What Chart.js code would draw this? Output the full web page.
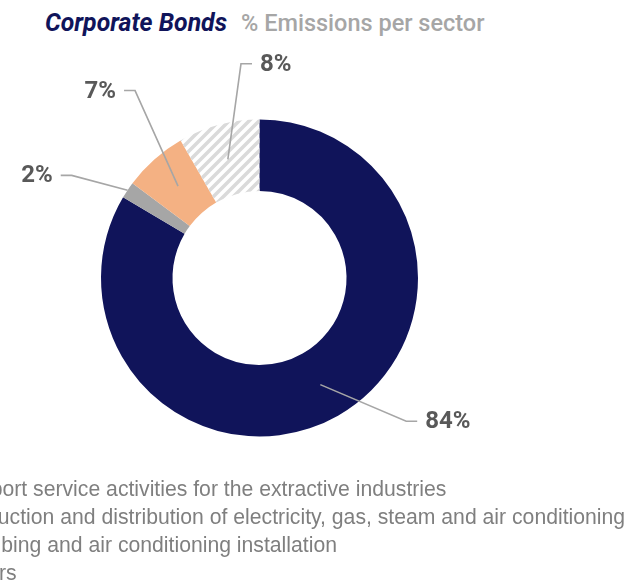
<!DOCTYPE html>
<html>
<head>
<meta charset="utf-8">
<script src="https://cdn.jsdelivr.net/npm/chart.js@4.4.1/dist/chart.umd.min.js"></script>
<style>
  body { margin: 0; width: 628px; height: 581px; overflow: hidden; background: #fff; position: relative; }
  #title { position: absolute; left: 45px; top: 11px; line-height: 24px; white-space: nowrap; font-family: Roboto, sans-serif; }
  #title .main { color: #10145a; font-weight: 700; font-style: italic; font-size: 24.8px; }
  #title .sub { color: #a6a6a6; font-weight: 500; font-size: 23.5px; margin-left: 14px; }
  #box { position: absolute; left: 0; top: 0; width: 628px; height: 581px; }
  #legend { position: absolute; left: -77px; top: 475px; margin: 0; padding: 0; list-style: none; }
  #legend li { display: flex; align-items: center; white-space: nowrap; height: 28px; line-height: 28px;
    font-family: "Liberation Sans", Arial, sans-serif; font-size: 21.2px; color: #7f7f7f; }
  #legend li span { display: inline-block; width: 16px; height: 16px; margin-right: 14px; }
</style>
</head>
<body>
<div id="title"><span class="main">Corporate Bonds</span><span class="sub">% Emissions per sector</span></div>
<div id="box"><canvas id="myChart"></canvas></div>
<ul id="legend"></ul>
<script>
let sectors = [
  "Support service activities for the extractive industries",
  "Production and distribution of electricity, gas, steam and air conditioning",
  "Plumbing and air conditioning installation",
  "Others"
];
let shares = [83.5, 1.7, 6.5, 8.3];

// stripes for the "Others" slice
function hatch() {
  let c = document.createElement("canvas");
  c.width = 10;
  c.height = 10;
  let g = c.getContext("2d");
  g.strokeStyle = "#dadada";
  g.lineWidth = 3.5;
  g.beginPath();
  g.moveTo(-5, 5); g.lineTo(5, -5);
  g.moveTo(0, 10); g.lineTo(10, 0);
  g.moveTo(5, 15); g.lineTo(15, 5);
  g.stroke();
  return g.createPattern(c, "repeat");
}

let sliceColors = ["#10145a", "#a6a6a6", "#f4b183", hatch()];

// elbow of each callout: turn from slice middle (deg), radius, side
let callouts = [
  { turn: -16, r: 205, side: 1 },
  { turn: -5, r: 214, side: -1, edge: true },
  { turn: 8, r: 225, side: -1 },
  { turn: 10, r: 215, side: 1 }
];

const calloutPlugin = {
  id: "callouts",
  afterDatasetsDraw(chart) {
    const ctx = chart.ctx;
    const meta = chart.getDatasetMeta(0);
    ctx.save();
    ctx.strokeStyle = "#a6a6a6";
    ctx.lineWidth = 1.6;
    ctx.fillStyle = "#595959";
    ctx.font = "700 24px Roboto";
    ctx.textBaseline = "middle";
    meta.data.forEach((arc, i) => {
      const p = arc.getProps(["x", "y", "startAngle", "endAngle", "innerRadius", "outerRadius"], true);
      const c = callouts[i];
      const mid = (p.startAngle + p.endAngle) / 2;
      const ar = c.edge ? p.outerRadius : (p.innerRadius + p.outerRadius) / 2;
      const ax = p.x + ar * Math.cos(mid);
      const ay = p.y + ar * Math.sin(mid);
      const ea = mid + c.turn * Math.PI / 180;
      const ex = p.x + c.r * Math.cos(ea);
      const ey = p.y + c.r * Math.sin(ea);
      const hx = ex + c.side * 11;
      ctx.beginPath();
      ctx.moveTo(ax, ay);
      ctx.lineTo(ex, ey);
      ctx.lineTo(hx, ey);
      ctx.stroke();
      ctx.textAlign = c.side > 0 ? "left" : "right";
      ctx.fillText(Math.round(shares[i]) + "%", hx + c.side * 8, ey + 1);
    });
    ctx.restore();
  }
};

const htmlLegend = {
  id: "htmlLegend",
  afterUpdate(chart) {
    const ul = document.getElementById("legend");
    ul.innerHTML = "";
    const items = chart.options.plugins.legend.labels.generateLabels(chart);
    items.forEach(item => {
      const li = document.createElement("li");
      const box = document.createElement("span");
      box.style.background = typeof item.fillStyle === "string" ? item.fillStyle : "#dadada";
      li.appendChild(box);
      li.appendChild(document.createTextNode(item.text));
      ul.appendChild(li);
    });
  }
};

new Chart("myChart", {
  type: "doughnut",
  data: {
    labels: sectors,
    datasets: [{
      data: shares,
      backgroundColor: sliceColors,
      borderWidth: 0,
      hoverOffset: 0,
      radius: 158.5,
      cutout: "54.9%"
    }]
  },
  options: {
    responsive: true,
    maintainAspectRatio: false,
    animation: false,
    layout: { padding: { left: 0, right: 109, top: 0, bottom: 25 } },
    plugins: {
      legend: { display: false },
      tooltip: { enabled: false }
    }
  },
  plugins: [calloutPlugin, htmlLegend]
});
</script>
</body>
</html>
